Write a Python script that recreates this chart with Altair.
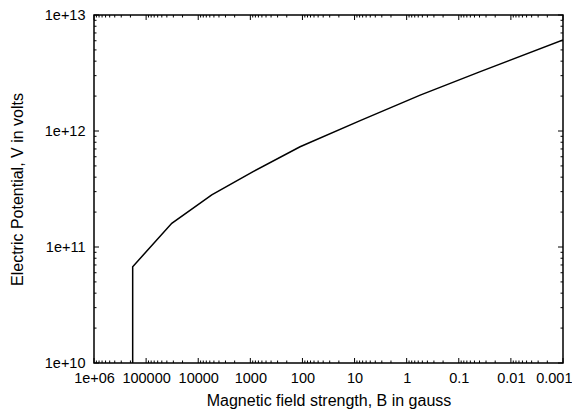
import altair as alt
import pandas as pd

# curve (B in gauss, V in volts)
b_values = [1.81e5, 1.81e5, 3.22e4, 5.50e3, 885, 111, 7.81, 0.55, 0.0387, 0.001]
v_values = [1.0e10, 6.76e10, 1.60e11, 2.81e11, 4.46e11, 7.32e11, 1.23e12, 2.04e12, 3.25e12, 6.09e12]

x_ticks = [1e6, 1e5, 1e4, 1e3, 100, 10, 1, 0.1, 0.01, 0.001]
x_tick_labels = ["1e+06", "100000", "10000", "1000", "100", "10", "1", "0.1", "0.01", "0.001"]
y_ticks = [1e10, 1e11, 1e12, 1e13]
y_tick_labels = ["1e+10", "1e+11", "1e+12", "1e+13"]
minor_mult = [2, 3, 4, 5, 6, 7, 8, 9]

W, H = 469, 348
FONT = "Liberation Sans"

curve = pd.DataFrame({"B": b_values, "V": v_values, "i": range(len(b_values))})

x_minor = [t * m for t in x_ticks[1:] for m in minor_mult]
y_minor = [t * m for t in y_ticks[:-1] for m in minor_mult]

xscale = alt.Scale(type="log", domain=[0.001, 1e6], reverse=True)
yscale = alt.Scale(type="log", domain=[1e10, 1e13])


def label_expr(vals, labs):
    s = ""
    for v, l in zip(vals, labs):
        s += f"abs(datum.value - {v!r}) <= {v!r} * 1e-6 ? '{l}' : "
    return s + "''"


last_test = "datum.value < 0.002"
xaxis = alt.Axis(values=x_ticks, labelExpr=label_expr(x_ticks, x_tick_labels),
                 ticks=False, domain=False, grid=False, labelPadding=8,
                 labelFont=FONT, labelFontSize=14.5, labelColor="black",
                 labelFlush=False, labelOverlap=False,
                 labelAlign={"condition": {"test": last_test, "value": "right"}, "value": "center"},
                 labelOffset={"condition": {"test": last_test, "value": 9}, "value": 0},
                 title="Magnetic field strength, B  in gauss",
                 titleFont=FONT, titleFontSize=16, titleFontWeight="normal",
                 titleColor="black", titleX=W / 2, titleY=42,
                 titleBaseline="alphabetic", titleAlign="center")
yaxis = alt.Axis(values=y_ticks, labelExpr=label_expr(y_ticks, y_tick_labels),
                 ticks=False, domain=False, grid=False, labelPadding=9,
                 labelFont=FONT, labelFontSize=14.5, labelColor="black",
                 labelFlush=False, labelOverlap=False,
                 title="Electric Potential, V in volts",
                 titleFont=FONT, titleFontSize=16, titleFontWeight="normal",
                 titleColor="black", titleX=-72, titleY=H / 2,
                 titleBaseline="alphabetic", titleAlign="center", titleAngle=270)

line = alt.Chart(curve).mark_line(color="black", strokeWidth=1.5, clip=True).encode(
    x=alt.X("B:Q", scale=xscale, axis=xaxis, title="Magnetic field strength, B  in gauss"),
    y=alt.Y("V:Q", scale=yscale, axis=yaxis, title="Electric Potential, V in volts"),
    order="i:Q",
)


def xtick_layer(vals, y0, y1):
    df = pd.DataFrame({"B": vals})
    return alt.Chart(df).mark_rule(color="black", strokeWidth=1).encode(
        x=alt.X("B:Q", scale=xscale, axis=xaxis, title="Magnetic field strength, B  in gauss"),
        y=alt.value(y0), y2=alt.value(y1))


def ytick_layer(vals, x0, x1):
    df = pd.DataFrame({"V": vals})
    return alt.Chart(df).mark_rule(color="black", strokeWidth=1).encode(
        y=alt.Y("V:Q", scale=yscale, axis=yaxis, title="Electric Potential, V in volts"),
        x=alt.value(x0), x2=alt.value(x1))


MAJ, MIN = 5, 2.5
layers = [
    line,
    xtick_layer(x_ticks, H, H - MAJ), xtick_layer(x_minor, H, H - MIN),
    xtick_layer(x_ticks, 0, MAJ), xtick_layer(x_minor, 0, MIN),
    ytick_layer(y_ticks, 0, MAJ), ytick_layer(y_minor, 0, MIN),
    ytick_layer(y_ticks, W, W - MAJ), ytick_layer(y_minor, W, W - MIN),
]

chart = alt.layer(*layers).properties(
    width=W, height=H,
    autosize=alt.AutoSizeParams(type="none"),
    padding={"left": 86, "top": 7, "right": 9, "bottom": 47},
    background="white",
).configure_view(stroke="black", strokeWidth=1.5)

chart.save("out.html", embed_options={"renderer": "svg", "actions": False})
